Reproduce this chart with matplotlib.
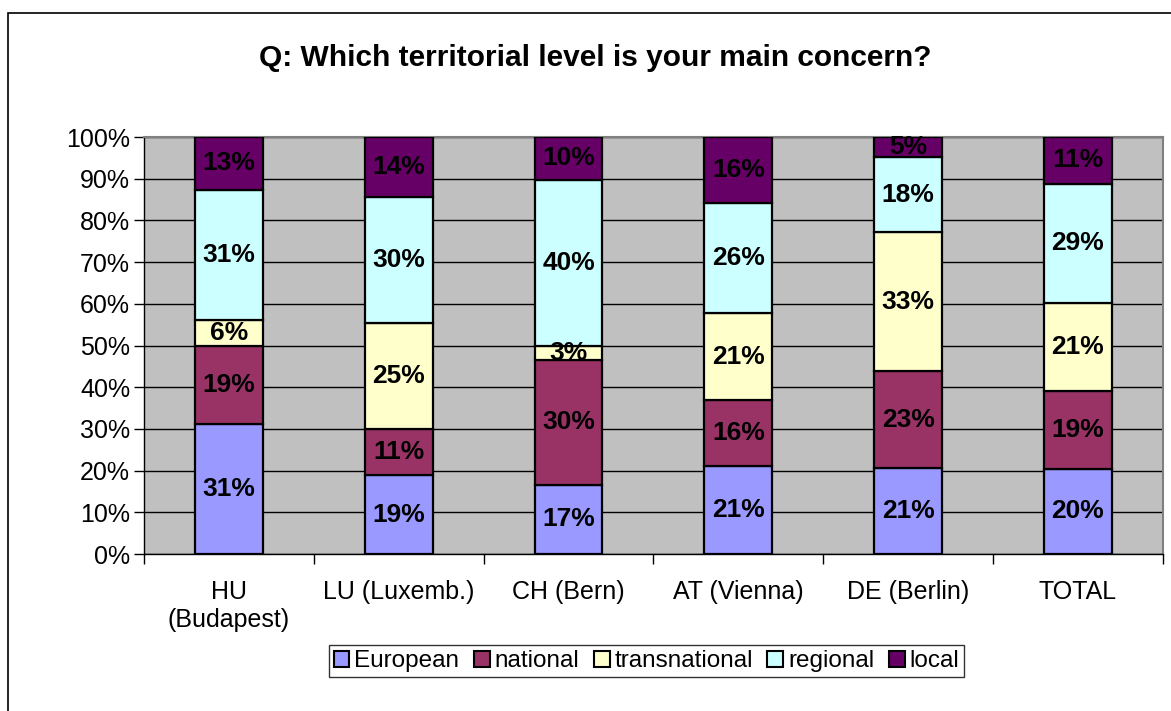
import numpy as np
import matplotlib.pyplot as plt
from matplotlib.patches import Rectangle, Patch

plt.rcParams['font.family'] = ['Liberation Sans', 'DejaVu Sans']

categories = ['HU\n(Budapest)', 'LU (Luxemb.)', 'CH (Bern)', 'AT (Vienna)', 'DE (Berlin)', 'TOTAL']
series = ['European', 'national', 'transnational', 'regional', 'local']
european = [31.2, 18.9, 16.6, 21.1, 20.6, 20.4]
national = [18.7, 11.1, 30.0, 15.8, 23.2, 18.6]
transnational = [6.2, 25.4, 3.4, 20.9, 33.4, 21.2]
regional = [31.2, 30.2, 39.8, 26.4, 18.0, 28.6]
local = [12.7, 14.4, 10.2, 15.8, 4.8, 11.2]
colors = ['#9999FF', '#993366', '#FFFFCC', '#CCFFFF', '#660066']

data = [european, national, transnational, regional, local]

fig = plt.figure(figsize=(11.71, 7.11), dpi=100)
ax = fig.add_axes([0.123, 0.2208, 0.870, 0.5865])
ax.set_facecolor('#C0C0C0')

x = np.arange(len(categories))
bottom = np.zeros(len(categories))
for vals, col, name in zip(data, colors, series):
    vals = np.array(vals)
    ax.bar(x, vals, 0.4, bottom=bottom, color=col, edgecolor='black', linewidth=1.6, label=name, zorder=3)
    for xi, b, v in zip(x, bottom, vals):
        ax.text(xi, b + v / 2, '%d%%' % round(v), ha='center', va='center',
                fontsize=19, fontweight='bold', color='black', zorder=4)
    bottom += vals

ax.set_xlim(-0.5, len(categories) - 0.5)
ax.set_ylim(0, 100)
ax.set_yticks(np.arange(0, 101, 10))
ax.set_yticklabels(['%d%%' % v for v in range(0, 101, 10)], fontsize=18)
ax.yaxis.grid(True, color='black', linewidth=1, zorder=0)
ax.set_axisbelow(True)
ax.tick_params(axis='y', direction='out', length=7, width=1, pad=3)

ax.set_xticks(x)
ax.set_xticklabels(categories, fontsize=18)
ax.set_xticks(np.arange(-0.5, len(categories), 1), minor=True)
ax.tick_params(axis='x', which='major', length=0, pad=19)
ax.tick_params(axis='x', which='minor', direction='out', length=7, width=1)

for s in ['top', 'right']:
    ax.spines[s].set_color('#808080')
    ax.spines[s].set_linewidth(1.5)
for s in ['left', 'bottom']:
    ax.spines[s].set_color('black')
    ax.spines[s].set_linewidth(1)

fig.text(0.508, 0.918, 'Q: Which territorial level is your main concern?', ha='center', va='center',
         fontsize=21.5, fontweight='bold')

handles = [Patch(facecolor=c, edgecolor='black', linewidth=1.5) for c in colors]
leg = fig.legend(handles, series, loc='center', bbox_to_anchor=(0.552, 0.070), ncol=5,
                 fontsize=17.5, frameon=True, fancybox=False, handlelength=0.65, handleheight=0.65,
                 handletextpad=0.2, columnspacing=0.6, borderpad=0.2, borderaxespad=0)
leg.get_frame().set_edgecolor('black')
leg.get_frame().set_linewidth(1)

fig.patches.append(Rectangle((8 / 1171, -0.1), 1.2, 1.1 - 13 / 711, transform=fig.transFigure,
                             fill=False, edgecolor='black', linewidth=1.2))

fig.savefig('out.png', dpi=100)
